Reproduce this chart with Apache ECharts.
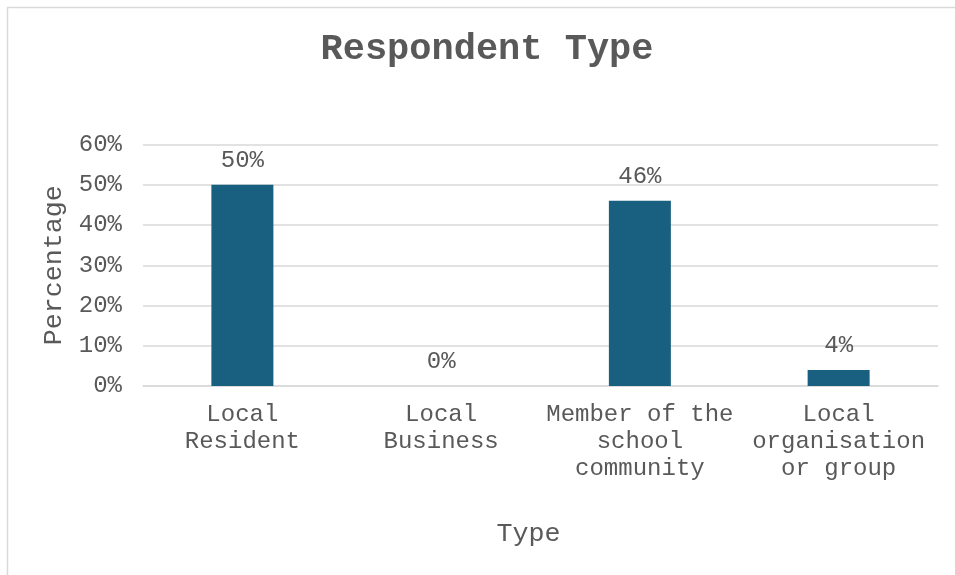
<!DOCTYPE html>
<html>
<head>
<meta charset="utf-8">
<script src="https://cdn.jsdelivr.net/npm/echarts@6/dist/echarts.min.js"></script>
<style>
  html, body { margin: 0; padding: 0; background: #ffffff; }
  #chart { width: 955px; height: 575px; }
</style>
</head>
<body>
<div id="chart"></div>
<script>
// Survey breakdown by respondent type (percent of responses)
const categories = ['Local\nResident', 'Local\nBusiness', 'Member of the\nschool\ncommunity', 'Local\norganisation\nor group'];
const percentages = [50, 0, 46, 4];
const yTicks = { min: 0, max: 60, interval: 10 };

const MONO = '"Liberation Mono", "Courier New", "DejaVu Sans Mono", monospace';
const TEXT = '#595959';

const chart = echarts.init(document.getElementById('chart'), null, { renderer: 'canvas' });

chart.setOption({
  backgroundColor: '#ffffff',
  animation: false,
  graphic: [{
    type: 'rect',
    shape: { x: 7.5, y: 7.5, width: 1000, height: 1000 },
    style: { fill: 'none', stroke: '#d9d9d9', lineWidth: 1.5 },
    silent: true,
    z: -10
  }],
  title: {
    text: 'Respondent Type',
    left: 482,
    top: 26,
    textAlign: 'center',
    textStyle: { fontFamily: MONO, fontSize: 37, fontWeight: 'bold', color: TEXT }
  },
  grid: { left: 143, right: 17, top: 144.5, bottom: 189 },
  xAxis: {
    type: 'category',
    data: categories,
    name: 'Type',
    nameLocation: 'middle',
    nameGap: 134,
    nameTextStyle: { fontFamily: MONO, fontSize: 26.7, color: TEXT, padding: [0, 24, 0, 0] },
    axisLine: { show: true, lineStyle: { color: '#d9d9d9', width: 1.5 } },
    axisTick: { show: false },
    axisLabel: { fontFamily: MONO, fontSize: 24, color: TEXT, margin: 15, lineHeight: 27, interval: 0 }
  },
  yAxis: {
    type: 'value',
    min: yTicks.min,
    max: yTicks.max,
    interval: yTicks.interval,
    name: 'Percentage',
    nameLocation: 'middle',
    nameRotate: 90,
    nameGap: 64,
    nameTextStyle: { fontFamily: MONO, fontSize: 26.7, color: TEXT },
    axisLine: { show: false },
    axisTick: { show: false },
    axisLabel: { fontFamily: MONO, fontSize: 24, color: TEXT, margin: 21, formatter: v => v + '%' },
    splitLine: { lineStyle: { color: '#d9d9d9', width: 1.5 } }
  },
  series: [{
    type: 'bar',
    data: percentages,
    barWidth: 62,
    itemStyle: { color: '#185F80' },
    label: {
      show: true,
      position: 'top',
      distance: 12,
      fontFamily: MONO,
      fontSize: 24,
      color: TEXT,
      formatter: p => p.value + '%'
    }
  }]
});
</script>
</body>
</html>
